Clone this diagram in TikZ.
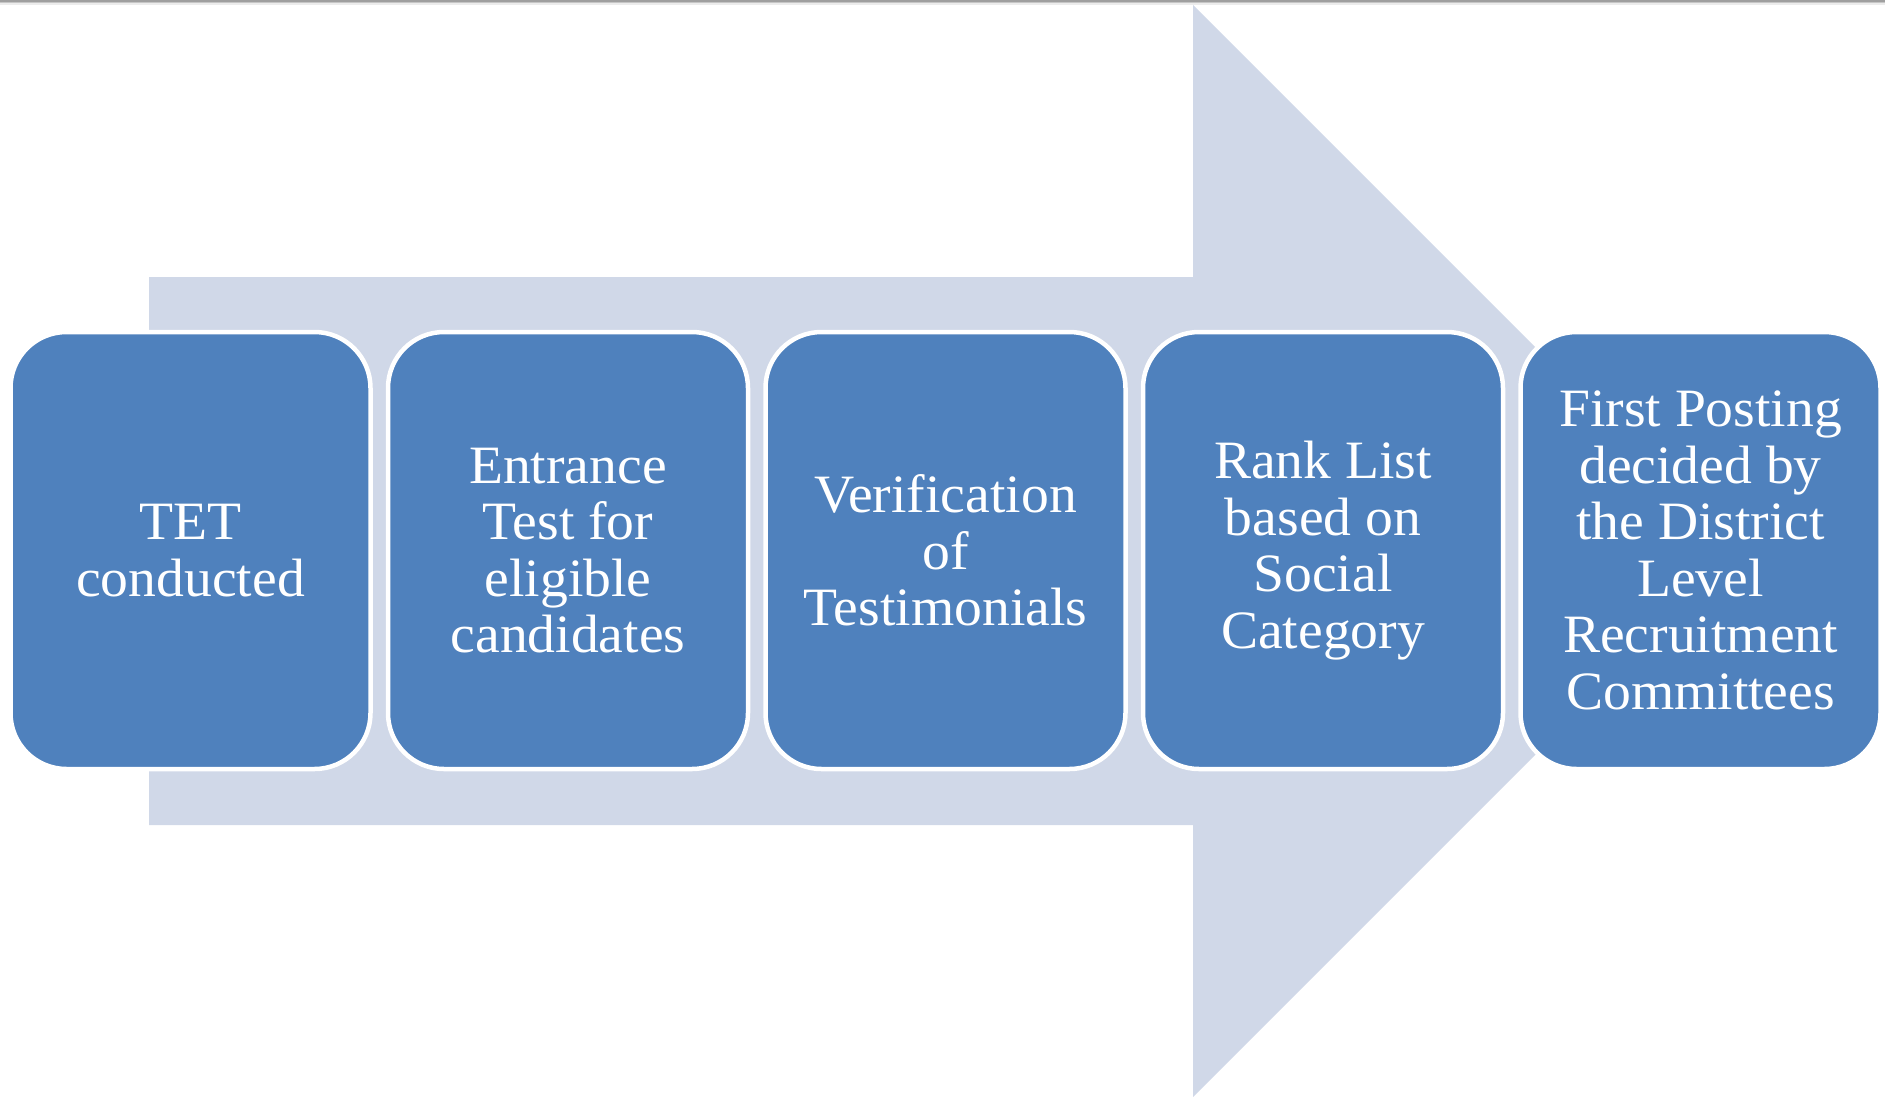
\documentclass[tikz,border=0pt]{standalone}
\usepackage{fontspec}
\setmainfont{Liberation Serif}[FakeStretch=1.03]
\definecolor{boxblue}{HTML}{4F81BD}
\definecolor{arrowbg}{HTML}{D0D8E8}
\begin{document}
\begin{tikzpicture}[x=1pt,y=-1pt,
  stage/.style={rectangle, rounded corners=56pt, fill=boxblue, draw=white, line width=4.5pt,
    minimum width=360pt, minimum height=437pt, text width=345pt, align=flush center,
    text=white, font=\fontsize{54}{56.5}\selectfont, inner sep=0pt}]
\useasboundingbox (0,0) rectangle (1885,1096);
\fill[white] (0,0) rectangle (1885,1096);
\begin{scope}
\clip (0,0) rectangle (1885,1096);
\fill[arrowbg] (149,277) -- (1193,277) -- (1193,5) -- (1739,551) -- (1193,1097) -- (1193,825) -- (149,825) -- cycle;
\end{scope}
\fill[gray!75] (0,0) rectangle (1885,1.5);
\fill[gray!45] (0,1.5) rectangle (1885,3);
\fill[gray!15] (0,3) rectangle (1885,4.5);
\node[stage] (b1) at (190.5,550.5) {TET\\conducted};
\node[stage] (b2) at (568,550.5) {Entrance\\Test for\\eligible\\candidates};
\node[stage] (b3) at (945.5,550.5) {Verification\\of\\Testimonials};
\node[stage] (b4) at (1323,550.5) {Rank List\\based on\\Social\\Category};
\node[stage] (b5) at (1700.5,550.5) {First Posting\\decided by\\the District\\Level\\Recruitment\\Committees};
\end{tikzpicture}
\end{document}
